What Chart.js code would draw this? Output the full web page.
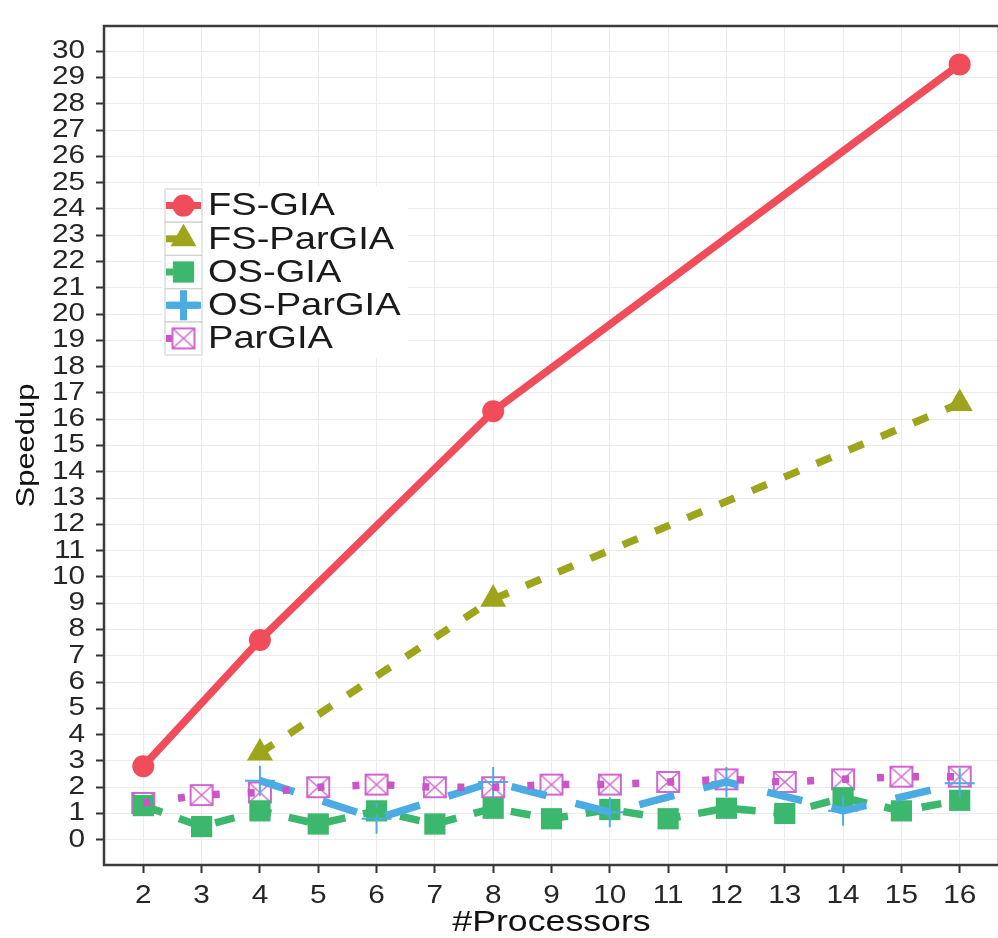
<!DOCTYPE html>
<html><head><meta charset="utf-8">
<script src="https://cdn.jsdelivr.net/npm/chart.js@4.4.1/dist/chart.umd.min.js"></script>
<style>
html,body{margin:0;padding:0;background:#fff;overflow:hidden;}
#wrap{position:absolute;left:0;top:0;width:1016px;height:938px;}
canvas{display:block;}
</style></head><body>
<div id="wrap"><canvas id="c" width="1016" height="938"></canvas></div>
<script>
// ---- data ----
const processors = [2, 3, 4, 5, 6, 7, 8, 9, 10, 11, 12, 13, 14, 15, 16];
const fsGiaX = [2, 4, 8, 16];
const fsGiaY = [2.8, 7.6, 16.3, 29.5];
const fsParGiaX = [4, 8, 16];
const fsParGiaY = [3.3, 9.15, 16.6];
const osGiaY = [1.3, 0.5, 1.1, 0.6, 1.1, 0.6, 1.2, 0.8, 1.15, 0.8, 1.2, 1.0, 1.6, 1.1, 1.5];
const osParGiaX = [4, 6, 8, 10, 12, 14, 16];
const osParGiaY = [2.25, 0.8, 2.2, 1.05, 2.2, 1.1, 2.15];
const parGiaY = [1.4, 1.7, 1.8, 2.0, 2.1, 2.0, 2.0, 2.1, 2.1, 2.2, 2.3, 2.2, 2.3, 2.4, 2.4];
const xTickValues = [2, 3, 4, 5, 6, 7, 8, 9, 10, 11, 12, 13, 14, 15, 16];
const yTickValues = [0, 1, 2, 3, 4, 5, 6, 7, 8, 9, 10, 11, 12, 13, 14, 15, 16, 17, 18, 19, 20, 21, 22, 23, 24, 25, 26, 27, 28, 29, 30];
const seriesNames = ['FS-GIA', 'FS-ParGIA', 'OS-GIA', 'OS-ParGIA', 'ParGIA'];
const xTitle = '#Processors';
const yTitle = 'Speedup';

// ---- styles ----
const RED = '#F04C5A', OLIVE = '#9CA51C', GREEN = '#3CB86E', BLUE = '#4BABE3', MAG = '#C955C9';
const FONT = '"Liberation Sans", Arial, sans-serif';
const TEXT = '#262626';

function pts(xs, ys) { return xs.map((x, i) => ({x: x, y: ys[i]})); }

// box-with-X marker for ParGIA
const boxX = document.createElement('canvas');
boxX.width = 26; boxX.height = 24;
(function(){
  const g = boxX.getContext('2d');
  g.strokeStyle = '#D066D0'; g.lineWidth = 2;
  g.strokeRect(2, 2, 22, 20);
  g.lineWidth = 1.5;
  g.beginPath(); g.moveTo(2, 2); g.lineTo(24, 22); g.moveTo(24, 2); g.lineTo(2, 22); g.stroke();
})();

const canvas = document.getElementById('c');
const ctx0 = canvas.getContext('2d');
const origFill = ctx0.fillText.bind(ctx0);
const STRETCH = 1.19;
ctx0.fillText = function(t, x, y) {
  this.save(); this.translate(x, y); this.scale(STRETCH, 1); origFill(t, 0, 0); this.restore();
};

const styles = [
  {name: seriesNames[0], color: RED, dash: [], pointStyle: 'circle', radius: 11, bw: 0},
  {name: seriesNames[1], color: OLIVE, dash: [16, 19], pointStyle: 'triangle', radius: 15, bw: 0},
  {name: seriesNames[2], color: GREEN, dash: [20, 18], pointStyle: 'rect', radius: 15, bw: 0},
  {name: seriesNames[3], color: BLUE, dash: [36, 30], pointStyle: 'cross', radius: 15, bw: 2},
  {name: seriesNames[4], color: MAG, dash: [7, 28], pointStyle: boxX, radius: 12, bw: 0}
];

const seriesData = [
  pts(fsGiaX, fsGiaY),
  pts(fsParGiaX, fsParGiaY),
  pts(processors, osGiaY),
  pts(osParGiaX, osParGiaY),
  pts(processors, parGiaY)
];

const lineOrder = [5, 4, 3, 2, 1];
const pointOrder = [9, 8, 7, 6, 10];
const datasets = [];
styles.forEach((s, i) => {
  datasets.push({
    label: s.name, data: seriesData[i], showLine: true,
    borderColor: s.color, borderWidth: 7.5, borderDash: s.dash, borderCapStyle: 'butt', borderJoinStyle: 'round',
    pointRadius: 0, fill: false, tension: 0, order: lineOrder[i]
  });
  datasets.push({
    label: s.name + ' points', data: seriesData[i], showLine: false,
    pointStyle: s.pointStyle, pointRadius: s.radius,
    pointBackgroundColor: s.color, pointBorderColor: s.color, pointBorderWidth: s.bw,
    order: pointOrder[i]
  });
});

const frame = {
  id: 'frame',
  afterDraw(chart) {
    const {ctx, chartArea: a} = chart;
    ctx.save();
    ctx.strokeStyle = '#3c3c3c'; ctx.lineWidth = 2.5;
    ctx.strokeRect(a.left, a.top, a.right - a.left, a.bottom - a.top);
    // legend
    ctx.fillStyle = '#fff';
    ctx.fillRect(162, 186, 246, 172);
    const rowTop = 189, rowH = 33.2, keyX = 165, keyW = 37;
    styles.forEach((s, i) => {
      const y0 = rowTop + i * rowH, cy = y0 + rowH / 2, cx = keyX + keyW / 2;
      ctx.setLineDash([]);
      ctx.strokeStyle = '#D4D4D4'; ctx.lineWidth = 1.2;
      ctx.strokeRect(keyX, y0, keyW, rowH);
      ctx.beginPath(); ctx.setLineDash(s.dash); ctx.lineCap = 'butt';
      ctx.strokeStyle = s.color; ctx.lineWidth = 7;
      ctx.moveTo(keyX + 1, cy); ctx.lineTo(keyX + keyW - 1, cy); ctx.stroke();
      ctx.setLineDash([]);
      ctx.fillStyle = s.color; ctx.strokeStyle = s.color;
      Chart.helpers.drawPoint(ctx, {pointStyle: s.pointStyle, radius: s.radius, borderWidth: s.bw, rotation: 0}, cx, cy);
      ctx.fillStyle = '#1a1a1a'; ctx.font = '32px ' + FONT;
      ctx.textAlign = 'left'; ctx.textBaseline = 'middle';
      ctx.fillText(s.name, 208, cy + 1);
    });
    ctx.restore();
  }
};

new Chart(canvas, {
  type: 'line',
  data: {datasets: datasets},
  options: {
    responsive: false, animation: false, devicePixelRatio: 1, events: [],
    layout: {padding: {left: 0, right: 2, top: 10, bottom: 0}},
    plugins: {legend: {display: false}, tooltip: {enabled: false}},
    scales: {
      x: {
        type: 'linear', min: 1.326, max: 16.674,
        afterBuildTicks: s => { s.ticks = xTickValues.map(v => ({value: v})); },
        afterFit: s => { s.height = 73; },
        ticks: {autoSkip: false, maxRotation: 0, padding: 8, color: TEXT, font: {family: FONT, size: 25}, callback: v => String(v)},
        grid: {color: '#EBEBEB', lineWidth: 1, drawTicks: true, tickLength: 8, tickColor: '#333', tickWidth: 2},
        border: {display: false},
        title: {display: true, text: xTitle, color: '#111', padding: {top: 0, bottom: 0}, font: {family: FONT, size: 30, lineHeight: 1}}
      },
      y: {
        type: 'linear', min: -0.96, max: 30.96,
        afterBuildTicks: s => { s.ticks = yTickValues.map(v => ({value: v})); },
        afterFit: s => { s.width = 104; },
        ticks: {autoSkip: false, padding: 11, color: TEXT, font: {family: FONT, size: 25}, callback: v => String(v)},
        grid: {color: '#EBEBEB', lineWidth: 1, drawTicks: true, tickLength: 8, tickColor: '#333', tickWidth: 2},
        border: {display: false},
        title: {display: true, text: yTitle, color: '#111', padding: {top: 11, bottom: 0}, font: {family: FONT, size: 26, lineHeight: 1.2}}
      }
    }
  },
  plugins: [frame]
});
</script>
</body></html>
